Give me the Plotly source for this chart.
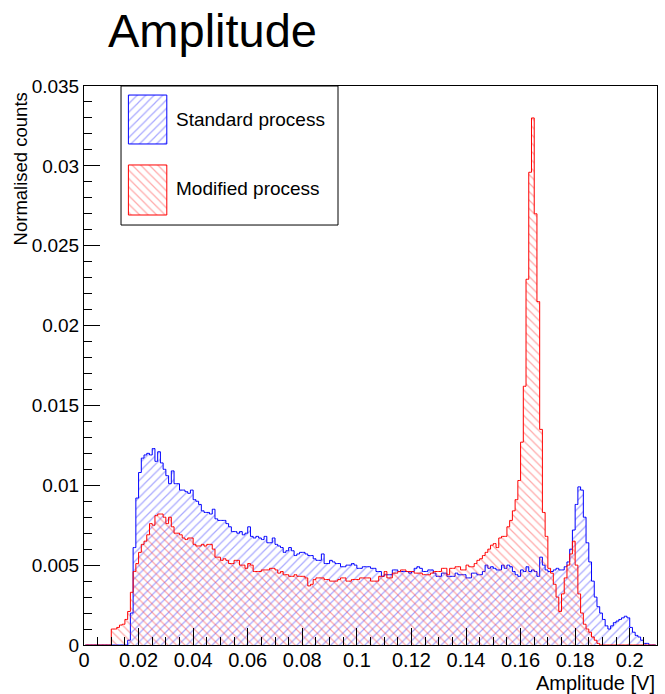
import plotly.graph_objects as go

# ---------------------------------------------------------------- data ----
# 210 bins of 0.001 V from 0 to 0.21 V, normalised counts in units of 1e-3
bin_width = 0.001
n_bins = 210

standard = [
    0, 0, 0, 0, 0, 0, 0, 0, 0, 0,
    0, 0, 0, 0, 0, 0, 0.3, 2.0, 6.1, 9.2,
    10.8, 11.7, 11.9, 12.0, 11.9, 12.3, 11.5, 12.1, 11.4, 11.0,
    10.6, 10.1, 10.9, 10.1, 10.1, 9.7, 9.7, 9.6, 9.5, 9.7,
    9.1, 9.0, 8.8, 8.4, 8.3, 8.3, 8.2, 8.5, 7.9, 7.8,
    7.8, 7.8, 7.6, 7.4, 7.1, 7.1, 7.0, 7.1, 6.9, 7.0,
    7.4, 6.8, 6.7, 6.8, 6.7, 6.6, 6.8, 6.4, 6.4, 6.7,
    6.3, 6.2, 6.1, 5.8, 5.9, 6.1, 5.9, 5.6, 5.7, 5.8,
    5.8, 5.7, 5.6, 5.6, 5.4, 5.3, 5.3, 5.7, 5.1, 5.1,
    5.3, 5.2, 5.1, 5.1, 4.9, 4.9, 5.0, 5.0, 5.1, 5.0,
    4.8, 4.8, 4.9, 4.9, 4.9, 4.8, 4.8, 4.6, 4.6, 4.3,
    4.4, 4.4, 4.4, 4.7, 4.7, 4.6, 4.6, 4.6, 4.6, 4.5,
    4.6, 4.8, 4.9, 4.8, 4.6, 4.6, 4.7, 4.7, 4.5, 4.3,
    4.3, 4.5, 4.5, 4.3, 4.3, 4.3, 4.5, 4.4, 4.4, 4.4,
    4.2, 4.2, 4.5, 4.5, 4.4, 4.4, 4.6, 5.0, 4.8, 4.9,
    4.8, 4.7, 4.7, 5.0, 4.8, 5.0, 4.9, 4.6, 4.4, 4.3,
    4.7, 4.6, 4.9, 4.6, 4.7, 4.6, 4.3, 5.5, 5.0, 4.7,
    4.6, 4.6, 4.7, 4.8, 4.7, 4.7, 4.9, 5.2, 6.0, 7.2,
    8.8, 9.9, 9.7, 8.0, 6.4, 5.2, 4.0, 3.0, 2.4, 2.0,
    1.6, 1.2, 1.0, 1.2, 1.4, 1.5, 1.6, 1.7, 1.8, 1.7,
    1.1, 0.8, 0.6, 0.5, 0.3, 0.1, 0.1, 0, 0, 0,
]

modified = [
    0, 0, 0, 0, 0, 0, 0, 0, 0, 0,
    1.0, 1.0, 1.1, 1.25, 1.3, 1.6, 2.1, 3.3, 4.6, 5.1,
    5.8, 6.3, 6.5, 6.9, 7.6, 7.5, 8.1, 8.2, 8.2, 8.0,
    7.6, 8.0, 7.4, 7.0, 7.0, 6.9, 6.7, 6.6, 6.7, 6.7,
    6.3, 6.2, 6.2, 6.3, 6.2, 6.3, 6.3, 6.0, 5.5, 5.5,
    5.3, 5.4, 5.3, 5.1, 5.1, 5.3, 5.3, 5.0, 5.0, 4.8,
    5.1, 5.0, 4.6, 4.6, 4.6, 4.7, 4.7, 4.7, 4.8, 4.8,
    4.7, 4.5, 4.6, 4.4, 4.4, 4.3, 4.3, 4.4, 4.3, 4.3,
    4.3, 4.2, 3.7, 3.8, 4.1, 4.2, 4.2, 4.2, 4.1, 4.1,
    4.0, 4.0, 4.0, 4.1, 4.2, 4.2, 4.0, 4.0, 4.1, 4.1,
    4.1, 4.2, 4.2, 4.2, 4.2, 4.0, 4.0, 4.0, 4.3, 4.3,
    4.6, 4.2, 4.2, 4.5, 4.5, 4.6, 4.7, 4.7, 4.6, 4.6,
    4.6, 4.5, 4.5, 4.5, 4.4, 4.4, 4.4, 4.5, 4.6, 4.6,
    4.6, 4.8, 4.8, 4.4, 4.8, 4.8, 4.9, 4.9, 4.7, 4.7,
    5.0, 4.9, 4.9, 5.1, 5.3, 5.4, 5.6, 5.8, 6.0, 6.25,
    6.35, 6.1, 6.7, 6.8, 6.8, 7.4, 7.8, 8.4, 9.1, 10.3,
    12.7, 16.2, 22.9, 29.6, 33.0, 27.0, 21.5, 13.5, 8.3, 6.8,
    4.8, 4.5, 3.8, 3.0, 2.1, 3.2, 4.2, 5.0, 5.7, 6.5,
    5.0, 3.2, 2.0, 1.3, 1.0, 0.8, 0.5, 0.3, 0.1, 0,
    0, 0, 0, 0, 0, 0, 0, 0, 0, 0,
    0, 0, 0, 0, 0, 0, 0, 0, 0, 0,
]

x_ticks = [0, 0.02, 0.04, 0.06, 0.08, 0.1, 0.12, 0.14, 0.16, 0.18, 0.2]
x_tick_labels = ["0", "0.02", "0.04", "0.06", "0.08", "0.1", "0.12", "0.14", "0.16", "0.18", "0.2"]
y_ticks = [0, 0.005, 0.01, 0.015, 0.02, 0.025, 0.03, 0.035]
y_tick_labels = ["0", "0.005", "0.01", "0.015", "0.02", "0.025", "0.03", "0.035"]

names = ["Standard process", "Modified process"]

# ---------------------------------------------------------------- style ----
FONT = "Liberation Sans, Arial, sans-serif"
BLUE = "rgb(0,0,255)"
RED = "rgb(255,0,0)"


def hatch(shape, colour):
    return dict(shape=shape, fgcolor=colour, bgcolor="rgba(0,0,0,0)",
                size=6, solidity=0.2)


centres = [(i + 0.5) * bin_width for i in range(n_bins)]

fig = go.Figure()

series = [
    (standard, BLUE, "/", "rgba(40,40,255,0.8)"),
    (modified, RED, "\\", "rgba(255,40,40,0.8)"),
]
for vals, line_col, shp, hatch_col in series:
    fig.add_trace(go.Scatter(
        x=centres, y=[v * 1e-3 for v in vals],
        mode="lines", line=dict(color=line_col, width=1, shape="hvh"),
        fill="tozeroy", fillcolor="rgba(0,0,0,0)",
        fillpattern=hatch(shp, hatch_col),
        showlegend=False, hoverinfo="skip",
    ))

# ---------------------------------------------------------- legend box ----
# drawn on a hidden pair of axes sitting over the top-left of the frame
leg_x = [0.0646, 0.4433]
leg_y = [0.7513, 1.0]
sq_x = [0.034, 0.211]
sq_rows = [[0.583, 0.935], [0.072, 0.432]]
txt_y = [0.76, 0.264]

for (vals, line_col, shp, hatch_col), (y0, y1) in zip(series, sq_rows):
    fig.add_trace(go.Scatter(
        x=[sq_x[0], sq_x[1], sq_x[1], sq_x[0], sq_x[0]],
        y=[y0, y0, y1, y1, y0],
        xaxis="x2", yaxis="y2",
        mode="lines", line=dict(color=line_col, width=1),
        fill="toself", fillcolor="rgba(0,0,0,0)",
        fillpattern=hatch(shp, hatch_col),
        showlegend=False, hoverinfo="skip",
    ))

annotations = []
for name, ty in zip(names, txt_y):
    annotations.append(dict(
        text=name, x=0.243, y=ty, xref="x2", yref="y2",
        xanchor="left", yanchor="middle", showarrow=False,
        font=dict(family=FONT, size=19, color="black"),
    ))

annotations.append(dict(
    text="Normalised counts", textangle=-90,
    x=-0.1117, y=0.993, xref="paper", yref="paper",
    xanchor="center", yanchor="top", showarrow=False,
    font=dict(family=FONT, size=18.5, color="black"),
))
annotations.append(dict(
    text="Amplitude [V]",
    x=1.0, y=-0.0680, xref="paper", yref="paper",
    xanchor="right", yanchor="middle", showarrow=False,
    font=dict(family=FONT, size=20, color="black"),
))

fig.update_layout(
    width=665, height=694,
    margin=dict(l=84, r=8, t=86, b=49),
    paper_bgcolor="white", plot_bgcolor="white",
    font=dict(family=FONT, color="black"),
    title=dict(text="Amplitude", x=108 / 665, xanchor="left",
               y=1 - 31 / 694, yanchor="middle",
               font=dict(family=FONT, size=47, color="black")),
    showlegend=False,
    annotations=annotations,
    shapes=[dict(type="rect", xref="paper", yref="paper",
                 x0=leg_x[0], x1=leg_x[1], y0=leg_y[0], y1=leg_y[1],
                 line=dict(color="black", width=1), layer="above")],
    xaxis=dict(
        range=[0, 0.21], tickmode="array", tickvals=x_ticks, ticktext=x_tick_labels,
        ticks="inside", ticklen=17, tickwidth=1, tickcolor="black",
        minor=dict(tickmode="linear", tick0=0, dtick=0.005, ticks="inside",
                   ticklen=8, tickwidth=1, tickcolor="black"),
        showline=True, linecolor="black", linewidth=1, mirror=True,
        showgrid=False, zeroline=False, ticklabelstandoff=-3,
        tickfont=dict(family=FONT, size=20, color="black"),
    ),
    yaxis=dict(
        range=[0, 0.035], tickmode="array", tickvals=y_ticks, ticktext=y_tick_labels,
        ticks="inside", ticklen=16, tickwidth=1, tickcolor="black",
        minor=dict(tickmode="linear", tick0=0, dtick=0.001, ticks="inside",
                   ticklen=8, tickwidth=1, tickcolor="black"),
        showline=True, linecolor="black", linewidth=1, mirror=True,
        showgrid=False, zeroline=False,
        tickfont=dict(family=FONT, size=19, color="black"),
    ),
    xaxis2=dict(domain=leg_x, range=[0, 1], anchor="y2", visible=False, fixedrange=True),
    yaxis2=dict(domain=leg_y, range=[0, 1], anchor="x2", visible=False, fixedrange=True),
)

# the page body has a default 8px margin; drop it so the figure sits at 0,0
fig.write_html("out.html", config={"displayModeBar": False},
               post_script="document.body.style.margin = '0';")
